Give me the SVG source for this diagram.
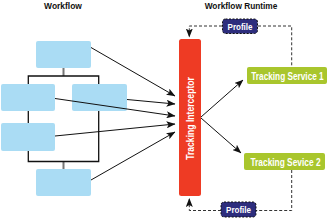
<svg xmlns="http://www.w3.org/2000/svg" width="330" height="219" viewBox="0 0 330 219">
<style>
.wf{fill:#aadcf4;}
.title{font-family:"Liberation Sans",Arial,sans-serif;font-weight:bold;font-size:9.5px;fill:#111;}
.lbl{font-family:"Liberation Sans",Arial,sans-serif;font-weight:bold;fill:#fff;}
.tree{stroke:#111;stroke-width:1.3;fill:none;}
.stub{stroke:#777;stroke-width:2;fill:none;}
.arr{stroke:#111;stroke-width:1;fill:none;marker-end:url(#ah);}
.dash{stroke:#333;stroke-width:1;stroke-dasharray:3 2;fill:none;}
.prof{fill:#2d2d7d;stroke:#111;stroke-width:1;stroke-dasharray:2 1.5;}
.ts{fill:#a9c62d;}
</style>
<defs>
<marker id="ah" markerUnits="userSpaceOnUse" markerWidth="9" markerHeight="7" refX="8.5" refY="3.5" orient="auto">
<path d="M0,0 L9,3.5 L0,7 L2,3.5 z" fill="#111"/>
</marker>
</defs>
<text class="title" transform="translate(63,9) scale(0.89,1)" text-anchor="middle">Workflow</text>
<text class="title" transform="translate(241,9) scale(0.875,1)" text-anchor="middle">Workflow Runtime</text>
<g id="tree">
<path class="stub" d="M63.5,68 V76 M63.5,161.5 V169"/>
<path class="tree" d="M28.3,84 V76 H98.7 V84 M28.3,111 V123 M28.3,151 V161.5 H98.7 V111"/>
</g>
<g id="wf1"><rect class="wf" x="36" y="41" width="55" height="27" rx="2"/></g>
<g id="wf2"><rect class="wf" x="1" y="84" width="54" height="27" rx="2"/></g>
<g id="wf3"><rect class="wf" x="72" y="84" width="55" height="27" rx="2"/></g>
<g id="wf4"><rect class="wf" x="1" y="123" width="54" height="28" rx="2"/></g>
<g id="wf5"><rect class="wf" x="36" y="169" width="55" height="27" rx="2"/></g>
<g id="interceptor">
<rect x="179" y="39" width="22" height="157" rx="2.5" fill="#ee3b24"/>
<text class="lbl" transform="translate(193.5,118.5) rotate(-90) scale(0.82,1)" font-size="10.5" text-anchor="middle">Tracking Interceptor</text>
</g>
<g id="ts1">
<rect class="ts" x="247" y="67" width="80" height="17" rx="2"/>
<text class="lbl" transform="translate(287.5,79.7) scale(0.75,1)" font-size="11" text-anchor="middle">Tracking Service 1</text>
</g>
<g id="ts2">
<rect class="ts" x="244" y="153" width="81" height="17" rx="2"/>
<text class="lbl" transform="translate(285.5,165.7) scale(0.76,1)" font-size="11" text-anchor="middle">Tracking Sevice 2</text>
</g>
<g id="connectors">
<line class="arr" x1="91" y1="47.5" x2="175" y2="96"/>
<line class="arr" x1="127" y1="99.5" x2="175" y2="104"/>
<line class="arr" x1="55" y1="98.5" x2="175" y2="116"/>
<line class="arr" x1="55" y1="136" x2="175" y2="124"/>
<line class="arr" x1="91" y1="180" x2="175" y2="132"/>
<line class="arr" x1="201" y1="117" x2="243" y2="80"/>
<line class="arr" x1="201" y1="118" x2="241" y2="153"/>
<path class="dash" d="M222,26 H189.3 V37" marker-end="url(#ah)"/>
<path class="dash" d="M258,26 H291.7 V67"/>
<path class="dash" d="M291.7,170 V210.5 H256"/>
<path class="dash" d="M221,210.5 H189.3 V198.5" marker-end="url(#ah)"/>
</g>
<g id="profile1">
<rect class="prof" x="222.5" y="19" width="35" height="14.5" rx="3"/>
<text class="lbl" transform="translate(240,29.8) scale(0.845,1)" font-size="9.5" text-anchor="middle">Profile</text>
</g>
<g id="profile2">
<rect class="prof" x="221" y="202" width="35" height="15" rx="3"/>
<text class="lbl" transform="translate(238.5,213) scale(0.845,1)" font-size="9.5" text-anchor="middle">Profile</text>
</g>
</svg>
